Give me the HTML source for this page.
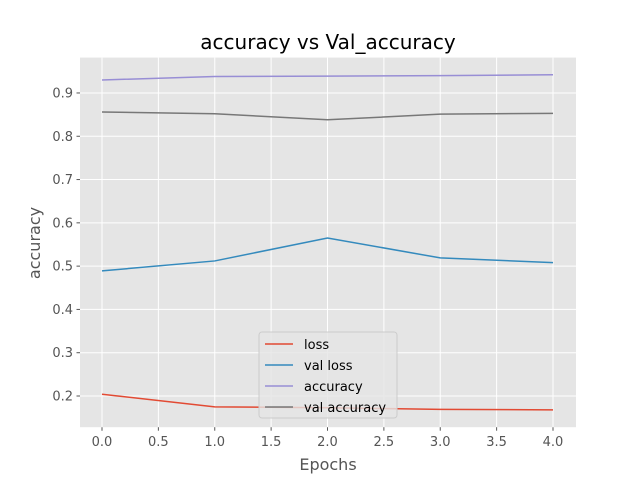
<!DOCTYPE html>
<html><head><meta charset="utf-8"><style>
body{margin:0;background:#fff;}
svg{display:block;font-family:"DejaVu Sans","Liberation Sans",sans-serif;}
</style></head><body>
<svg id="chart" width="640" height="480">
<rect width="640" height="480" fill="#fff"/>
<rect x="80" y="57.6" width="496" height="369.6" fill="#E5E5E5"/>
<g id="grid"></g><g id="series"></g><g id="ticks"></g>
<text x="328" y="49" font-size="20" text-anchor="middle" fill="#000">accuracy vs Val_accuracy</text>
<text x="328" y="470" font-size="16" text-anchor="middle" fill="#555">Epochs</text>
<text x="40" y="243" font-size="16" text-anchor="middle" fill="#555" transform="rotate(-90 40 243)">accuracy</text>
<g id="legend"></g>
</svg>
<script>
const epochs=[0,1,2,3,4];
const loss=[0.204,0.175,0.173,0.169,0.168];
const valLoss=[0.489,0.512,0.565,0.519,0.508];
const accuracy=[0.930,0.938,0.939,0.940,0.942];
const valAccuracy=[0.856,0.852,0.838,0.851,0.853];
const xTicks=[0,0.5,1,1.5,2,2.5,3,3.5,4];
const yTicks=[0.2,0.3,0.4,0.5,0.6,0.7,0.8,0.9];
const seriesNames=["loss","val loss","accuracy","val accuracy"];
const NS="http://www.w3.org/2000/svg";
function X(v){return 102+v*112.75;}
function Y(v){return 396-(v-0.2)*432.9;}
function mk(t,a,p){const e=document.createElementNS(NS,t);for(const k in a)e.setAttribute(k,a[k]);p.appendChild(e);return e;}
const grid=document.getElementById('grid'),ticks=document.getElementById('ticks'),ser=document.getElementById('series'),leg=document.getElementById('legend');
xTicks.forEach(v=>{
 const l=mk('line',{x1:X(v),x2:X(v),y1:57.6,y2:427.2,stroke:'#fff','stroke-width':1},grid);
 
 
 const tk=mk('line',{x1:X(v),x2:X(v),y1:427.2,y2:430.7,stroke:'#555'},ticks);
 
 
 const t=mk('text',{x:X(v),y:446,'font-size':13,'text-anchor':'middle',fill:'#555'},ticks);
 t.textContent=v.toFixed(1);
 
 
});
yTicks.forEach(v=>{
 const l=mk('line',{x1:80,x2:576,y1:Y(v),y2:Y(v),stroke:'#fff','stroke-width':1},grid);
 
 
 const tk=mk('line',{x1:76.5,x2:80,y1:Y(v),y2:Y(v),stroke:'#555'},ticks);
 
 
 const t=mk('text',{x:73,y:Y(v)+4.5,'font-size':13,'text-anchor':'end',fill:'#555'},ticks);
 t.textContent=v.toFixed(1);
 
 
});
const data=[loss,valLoss,accuracy,valAccuracy];
const colors=['#E24A33','#348ABD','#988ED5','#777777'];
data.forEach((d,i)=>{
 const p=mk('polyline',{points:d.map((v,j)=>X(epochs[j])+','+Y(v)).join(' '),fill:'none',stroke:colors[i],'stroke-width':1.5},ser);
 
 
});
const box=mk('rect',{x:259,y:332,width:138,height:86,rx:3,fill:'#E5E5E5','fill-opacity':0.8,stroke:'#ccc'},leg);


seriesNames.forEach((n,i)=>{
 const y=344+i*21;
 const l=mk('line',{x1:265,x2:293,y1:y,y2:y,stroke:colors[i],'stroke-width':1.5},leg);
 
 
 const t=mk('text',{x:304,y:y+5,'font-size':13,fill:'#000'},leg);
 t.textContent=n;
 
 
});
</script>
</body></html>
